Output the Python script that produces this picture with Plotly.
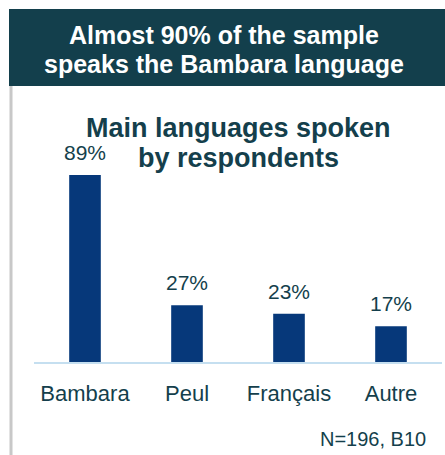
import plotly.graph_objects as go

# Survey results: main languages spoken by respondents
languages = ["Bambara", "Peul", "Français", "Autre"]
shares = [89, 27, 23, 17]
value_labels = [f"{v}%" for v in shares]

headline_lines = ["Almost 90% of the sample", "speaks the Bambara language"]
subtitle_lines = ["Main languages spoken", "by respondents"]
source_note = "N=196, B10"

TEAL = "#143f4c"
NAVY = "#06387a"
FONT = "Liberation Sans"

# plot area: x from 34 to 442 px, y baseline at 362 px, 210 px tall
PX_L, PX_W, PX_BASE, PX_H = 34, 408, 362, 210


def px(xp, yp):
    """Convert page pixel coordinates to paper coordinates."""
    return (xp - PX_L) / PX_W, (PX_BASE - yp) / PX_H


fig = go.Figure()
fig.add_trace(go.Bar(
    x=languages, y=shares,
    marker=dict(color=NAVY, line=dict(width=0)),
    width=0.31,
    hoverinfo="skip",
))

# value labels sitting above each bar
for lang, val, lab in zip(languages, shares, value_labels):
    fig.add_annotation(
        x=lang, y=val, text=lab, showarrow=False,
        yanchor="bottom", yshift=9,
        font=dict(family=FONT, size=21, color=TEAL),
    )

# header banner and left rule
x0, y0 = px(9, 86)
x1, y1 = px(447, 9)
fig.add_shape(type="rect", xref="paper", yref="paper",
              x0=x0, x1=x1, y0=y0, y1=y1,
              fillcolor="#133f4c", line=dict(width=0), layer="below")
lx, ly0 = px(11, 455)
_, ly1 = px(11, 86)
fig.add_shape(type="line", xref="paper", yref="paper",
              x0=lx, x1=lx, y0=ly0, y1=ly1,
              line=dict(color="#c8c8c8", width=3))

for line, yc in zip(headline_lines, [35, 64]):
    ax, ay = px(224, yc)
    fig.add_annotation(xref="paper", yref="paper", x=ax, y=ay,
                       text=line, showarrow=False,
                       xanchor="center", yanchor="middle",
                       font=dict(family=FONT, size=25, color="white", weight="bold"))

for line, yc in zip(subtitle_lines, [128, 158]):
    ax, ay = px(238, yc)
    fig.add_annotation(xref="paper", yref="paper", x=ax, y=ay,
                       text=line, showarrow=False,
                       xanchor="center", yanchor="middle",
                       font=dict(family=FONT, size=27, color=TEAL, weight="bold"))

nx, ny = px(428, 439)
fig.add_annotation(xref="paper", yref="paper", x=nx, y=ny,
                   text=source_note, showarrow=False,
                   xanchor="right", yanchor="middle",
                   font=dict(family=FONT, size=20, color=TEAL))

fig.update_layout(
    width=445, height=455,
    margin=dict(l=PX_L, r=445 - PX_L - PX_W, t=PX_BASE - PX_H, b=455 - PX_BASE),
    paper_bgcolor="white", plot_bgcolor="white",
    showlegend=False,
    bargap=0.69,
    xaxis=dict(showline=True, linecolor="#c5dff0", linewidth=2,
               showgrid=False, ticks="", ticklabelstandoff=11,
               tickfont=dict(family=FONT, size=22, color=TEAL)),
    yaxis=dict(range=[0, 100], visible=False, showgrid=False, fixedrange=True),
)

fig.write_html("out.html")
